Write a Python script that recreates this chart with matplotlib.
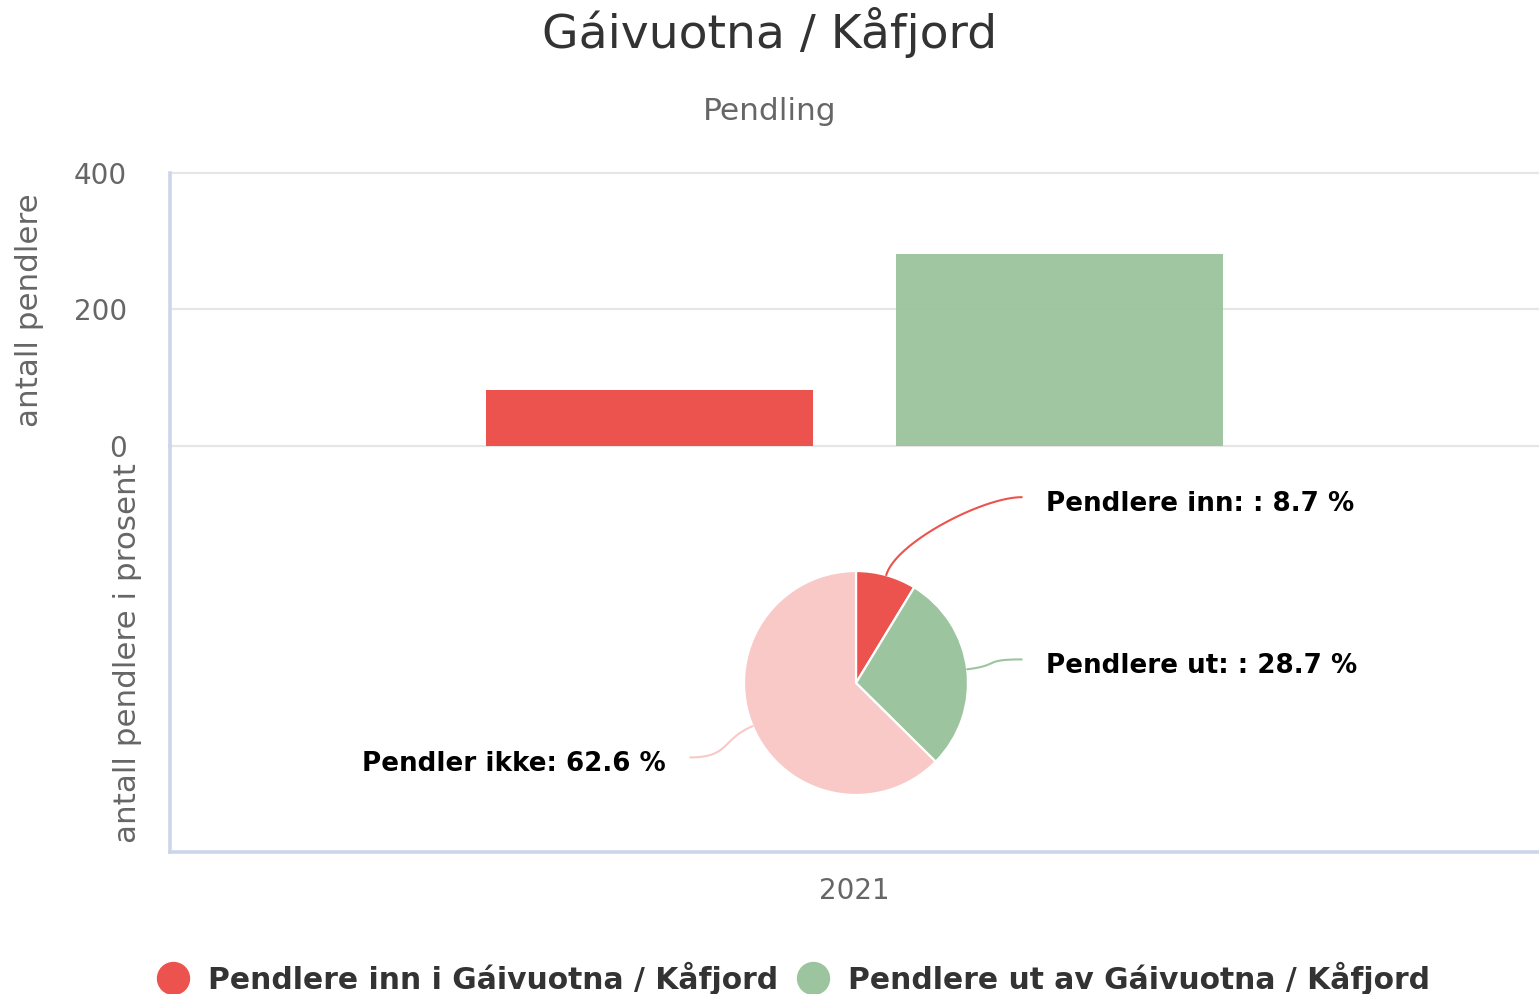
import numpy as np
import matplotlib
matplotlib.use('Agg')
import matplotlib.pyplot as plt
from matplotlib.lines import Line2D

# data
categories = ['2021']
pendlere_inn = [82]
pendlere_ut = [282]
pie_labels = ['Pendlere inn: ', 'Pendlere ut: ', 'Pendler ikke']
pie_values = [8.7, 28.7, 62.6]
y_ticks = [0, 200, 400]

red = '#ec534e'
green = '#9cc49e'
pink = '#f8c9c7'
axis_col = '#ccd6eb'
grid_col = '#e6e6e6'

plt.rcParams['font.family'] = ['DejaVu Sans']

W, H = 1539, 994
fig = plt.figure(figsize=(W / 100, H / 100), dpi=100)


def box(x0, y0, x1, y1):
    # pixel box (top-left origin) -> figure fraction
    return [x0 / W, 1 - y1 / H, (x1 - x0) / W, (y1 - y0) / H]


# top: bar chart
ax = fig.add_axes(box(170, 173, W, 446))
x = np.arange(len(categories))
ax.bar(x - 0.15, pendlere_inn, width=0.239, color=red, zorder=3)
ax.bar(x + 0.15, pendlere_ut, width=0.239, color=green, alpha=0.97, zorder=3)
ax.set_xlim(-0.5, 0.5)
ax.set_ylim(0, 400)
ax.set_yticks(y_ticks)
ax.set_yticklabels([str(v) for v in y_ticks], fontsize=20, color='#666666')
ax.tick_params(axis='y', length=0, pad=31)
ax.set_xticks([])
for v in y_ticks:
    ax.axhline(v, color=grid_col, lw=1.6, zorder=1, clip_on=False)
for s in ['top', 'right', 'bottom']:
    ax.spines[s].set_visible(False)
ax.spines['left'].set_color(axis_col)
ax.spines['left'].set_linewidth(2.6)

# bottom: percentage axis frame
ax2 = fig.add_axes(box(170, 446, W, 852))
ax2.set_xlim(-0.5, 0.5)
ax2.set_yticks([])
ax2.set_xticks(x)
ax2.set_xticklabels(categories, fontsize=20, color='#666666')
ax2.tick_params(axis='x', length=0, pad=18)
for s in ['top', 'right']:
    ax2.spines[s].set_visible(False)
for s in ['left', 'bottom']:
    ax2.spines[s].set_color(axis_col)
    ax2.spines[s].set_linewidth(2.6)
ax2.patch.set_alpha(0)

# pie
r_px = 112
pa = fig.add_axes(box(856 - r_px, 683 - r_px, 856 + r_px, 683 + r_px))
colors = [red, green, pink]
wedges, _ = pa.pie(pie_values, colors=colors, startangle=90, counterclock=False,
                   radius=1, wedgeprops=dict(edgecolor='white', linewidth=1.6))
pa.set_xlim(-1, 1)
pa.set_ylim(-1, 1)
pa.axis('off')


def connector(p0, d, p2, side):
    # cubic curve: leaves the slice radially, ends flat at the label
    c1 = (p0[0] + 0.3 * d[0], p0[1] + 0.3 * d[1])
    c2 = (p2[0] - side * 0.35, p2[1])
    t = np.linspace(0, 1, 60)
    bx = ((1 - t) ** 3 * p0[0] + 3 * (1 - t) ** 2 * t * c1[0]
          + 3 * (1 - t) * t ** 2 * c2[0] + t ** 3 * p2[0])
    by = ((1 - t) ** 3 * p0[1] + 3 * (1 - t) ** 2 * t * c1[1]
          + 3 * (1 - t) * t ** 2 * c2[1] + t ** 3 * p2[1])
    return bx, by


for w, lab, val, col in zip(wedges, pie_labels, pie_values, colors):
    th = np.deg2rad((w.theta1 + w.theta2) / 2)
    cx, cy = np.cos(th), np.sin(th)
    side = 1 if cx >= 0 else -1
    p2 = (side * 1.48, 1.723 * cy)
    lx, ly = connector((cx, cy), (cx, cy), p2, side)
    pa.plot(lx, ly, color=col, lw=1.5, clip_on=False, solid_capstyle='round')
    pa.text(p2[0] + side * 0.22, p2[1] - 0.06, f'{lab}: {val} %',
            ha='left' if side > 0 else 'right', va='center',
            fontsize=18.8, fontweight='bold', color='black', clip_on=False)

# titles
fig.text(770 / W, 1 - 32 / H, 'Gáivuotna / Kåfjord', ha='center', va='center',
         fontsize=34, color='#333333')
fig.text(770 / W, 1 - 112 / H, 'Pendling', ha='center', va='center',
         fontsize=22.5, color='#666666')
fig.text(30 / W, 1 - 310 / H, 'antall pendlere', rotation=90, ha='center',
         va='center', fontsize=22.3, color='#666666')
fig.text(127 / W, 1 - 653 / H, 'antall pendlere i prosent', rotation=90,
         ha='center', va='center', fontsize=22.3, color='#666666')

# legend
handles = [Line2D([], [], marker='o', ls='', markersize=23, color=red),
           Line2D([], [], marker='o', ls='', markersize=23, color=green)]
fig.legend(handles, ['Pendlere inn i Gáivuotna / Kåfjord',
                     'Pendlere ut av Gáivuotna / Kåfjord'],
           loc='center', bbox_to_anchor=(794 / W, 1 - 978 / H), ncol=2,
           frameon=False, prop={'size': 21.4, 'weight': 'bold'},
           labelcolor='#333333', handletextpad=0.65, columnspacing=0.7,
           handlelength=1.0)

fig.savefig('out.png', dpi=100)
